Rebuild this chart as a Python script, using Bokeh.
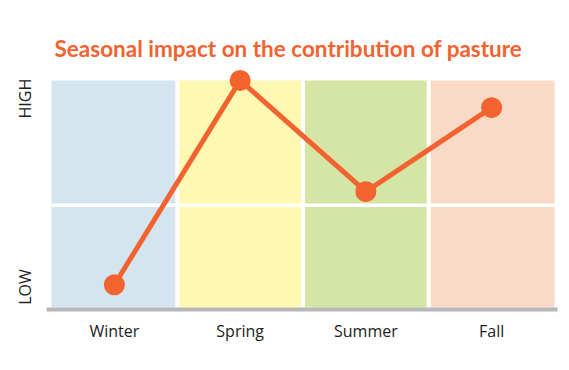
from bokeh.plotting import figure
from bokeh.models import FixedTicker, Title
from bokeh.embed import file_html
from bokeh.resources import INLINE

# ---- data ----
seasons = ["Winter", "Spring", "Summer", "Fall"]
season_colors = ["#d4e5ef", "#fef8b2", "#d5e5a5", "#f9dac6"]
impact = [1.0, 10.0, 5.1, 8.8]          # 0 = low, 10 = high
y_tick_values = [0.9, 9.2]
y_tick_labels = ["LOW", "HIGH"]
panel_low, panel_high = 0.0, 10.0
divider_level = 4.5

ORANGE = "#f26330"

p = figure(width=561, height=362, output_backend="svg", toolbar_location=None,
           x_range=(-0.04, 4.024), y_range=(-0.088, 10.7),
           min_border_left=46, min_border_right=4, min_border_top=64,
           min_border_bottom=53)
p.background_fill_color = "white"
p.border_fill_color = "white"
p.outline_line_color = None
p.xgrid.visible = False
p.ygrid.visible = False

x_left = list(range(len(seasons)))
x_right = [i + 1 for i in x_left]
x_mid = [i + 0.5 for i in x_left]

# season panels
p.quad(left=x_left, right=x_right, bottom=[panel_low] * 4, top=[panel_high] * 4,
       fill_color=season_colors, line_color=None)

# white separators
p.segment(x0=x_right[:-1], y0=[panel_low] * 3, x1=x_right[:-1], y1=[panel_high] * 3,
          line_color="white", line_width=4)
p.segment(x0=[0], y0=[divider_level], x1=[len(seasons)], y1=[divider_level],
          line_color="white", line_width=3.5)

# line + markers
p.line(x_mid, impact, line_color=ORANGE, line_width=5)
p.scatter(x_mid, impact, size=21, fill_color=ORANGE, line_color=None)

# x axis
xa = p.xaxis[0]
xa.ticker = FixedTicker(ticks=x_mid)
xa.major_label_overrides = {m: s for m, s in zip(x_mid, seasons)}
xa.axis_line_color = "#b8b8b8"
xa.axis_line_width = 4
xa.major_tick_line_color = None
xa.minor_tick_line_color = None
xa.major_label_text_font = "Open Sans"
xa.major_label_text_font_size = "16px"
xa.major_label_text_color = "#222222"
xa.major_label_standoff = 4

# y axis
ya = p.yaxis[0]
ya.ticker = FixedTicker(ticks=y_tick_values)
ya.major_label_overrides = {v: t for v, t in zip(y_tick_values, y_tick_labels)}
ya.axis_line_color = None
ya.major_tick_line_color = None
ya.minor_tick_line_color = None
ya.major_label_orientation = "vertical"
ya.major_label_text_font = "Open Sans"
ya.major_label_text_font_size = "16px"
ya.major_label_text_color = "#222222"
ya.major_label_standoff = 4

p.title = Title(text="Seasonal impact on the contribution of pasture",
                text_font="Lato", text_font_style="bold", text_font_size="22.5px",
                text_color=ORANGE, align="left", offset=8, standoff=6)

open("out.html", "w").write(file_html(p, INLINE))
